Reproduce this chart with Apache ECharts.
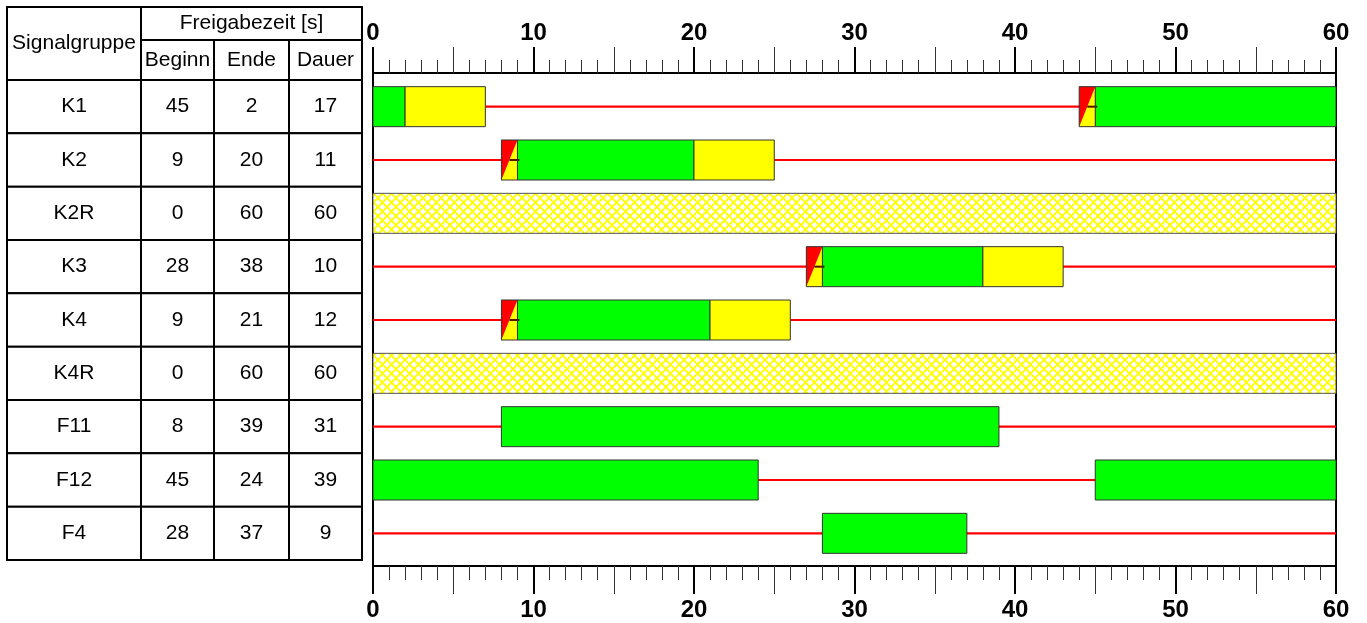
<!DOCTYPE html>
<html><head><meta charset="utf-8">
<script src="https://cdn.jsdelivr.net/npm/echarts@6/dist/echarts.min.js"></script>
<style>html,body{margin:0;padding:0;background:#fff}#c{width:1367px;height:623px}</style>
</head><body><div id="c"></div>
<script>
// ---- data ----
const groups = ['K1','K2','K2R','K3','K4','K4R','F11','F12','F4'];
const beginn = [45,9,0,28,9,0,8,45,28];
const ende   = [2,20,60,38,21,60,39,24,37];
const dauer  = [17,11,60,10,12,60,31,39,9];
const headerTop = 'Freigabezeit [s]';
const headerCols = ['Signalgruppe','Beginn','Ende','Dauer'];
// [row, start, end] in seconds
const greenPhases = [[0,0,2],[0,45,60],[1,9,20],[3,28,38],[4,9,21],[6,8,39],[7,0,24],[7,45,60],[8,28,37]];
const yellowPhases = [[0,2,7],[1,20,25],[3,38,43],[4,21,26]];
const redYellowPhases = [[0,44,45],[1,8,9],[3,27,28],[4,8,9]];
const flashPhases = [[2,0,60],[5,0,60]];
const redRows = [0,1,3,4,6,7,8];
const cycleMin = 0, cycleMax = 60;

// ---- layout / style ----
const FONT = '"Liberation Sans", Arial, Helvetica, sans-serif';
const colEdges = [0,134,207,282,355];
const BAR_H = 0.375;

function makeHatch(){
  const c = document.createElement('canvas'); c.width = 9; c.height = 9;
  const g = c.getContext('2d');
  g.fillStyle = '#ffffff'; g.fillRect(0,0,9,9);
  g.strokeStyle = '#ffff00'; g.lineWidth = 1.9;
  g.beginPath();
  g.moveTo(-1,-1); g.lineTo(10,10);
  g.moveTo(10,-1); g.lineTo(-1,10);
  g.stroke();
  return c;
}
const hatch = makeHatch();

function rectOf(api, row, s, e){
  const p0 = api.coord([s, row - BAR_H]);
  const p1 = api.coord([e, row + BAR_H]);
  return {x:p0[0], y:p0[1], width:p1[0]-p0[0], height:p1[1]-p0[1]};
}
function simpleBar(fill, stroke){
  return function(params, api){
    const r = rectOf(api, api.value(0), api.value(1), api.value(2));
    return {type:'rect', shape:r, style:{fill:fill, stroke:stroke, lineWidth:1}};
  };
}

const chart = echarts.init(document.getElementById('c'));
const axisCommon = {type:'value', min:cycleMin, max:cycleMax, splitLine:{show:false}};
const option = {
  animation:false,
  backgroundColor:'#fff',
  grid:[
    {left:373, right:31, top:73, bottom:57},
    {left:7, width:355, top:7, bottom:63}
  ],
  xAxis:[
    Object.assign({}, axisCommon, {gridIndex:0, position:'top', interval:5,
      axisLine:{show:true, onZero:false, lineStyle:{color:'#000', width:2}},
      axisTick:{show:true, length:26, lineStyle:{color:'#333', width:1}},
      minorTick:{show:true, splitNumber:5, length:13, lineStyle:{color:'#333', width:1}},
      axisLabel:{formatter:v => (v % 10 === 0 ? String(v) : ''), fontSize:24, fontWeight:'bold', color:'#000', fontFamily:FONT, margin:28}}),
    Object.assign({}, axisCommon, {gridIndex:0, position:'top', interval:10,
      axisLine:{show:true, onZero:false, lineStyle:{color:'#000', width:2}},
      axisTick:{show:true, length:26, lineStyle:{color:'#000', width:2}},
      axisLabel:{show:false}}),
    Object.assign({}, axisCommon, {gridIndex:0, position:'bottom', interval:5,
      axisLine:{show:true, onZero:false, lineStyle:{color:'#000', width:2}},
      axisTick:{show:true, length:28, lineStyle:{color:'#333', width:1}},
      minorTick:{show:true, splitNumber:5, length:14, lineStyle:{color:'#333', width:1}},
      axisLabel:{formatter:v => (v % 10 === 0 ? String(v) : ''), fontSize:24, fontWeight:'bold', color:'#000', fontFamily:FONT, margin:32}}),
    Object.assign({}, axisCommon, {gridIndex:0, position:'bottom', interval:10,
      axisLine:{show:true, onZero:false, lineStyle:{color:'#000', width:2}},
      axisTick:{show:true, length:28, lineStyle:{color:'#000', width:2}},
      axisLabel:{show:false}}),
    {gridIndex:1, type:'value', min:0, max:355, show:false}
  ],
  yAxis:[
    {gridIndex:0, type:'value', inverse:true, min:-0.63125, max:8.6125, position:'left',
      axisLine:{show:true, onZero:false, lineStyle:{color:'#000', width:2}}, axisTick:{show:false}, axisLabel:{show:false}, splitLine:{show:false}},
    {gridIndex:0, type:'value', inverse:true, min:-0.63125, max:8.6125, position:'right',
      axisLine:{show:true, onZero:false, lineStyle:{color:'#000', width:2}}, axisTick:{show:false}, axisLabel:{show:false}, splitLine:{show:false}},
    {gridIndex:1, type:'value', inverse:true, min:-1.86875, max:8.5, show:false}
  ],
  series:[
    // red lines (Sperrzeit)
    {type:'custom', xAxisIndex:0, yAxisIndex:0, z:1, clip:false,
      data: redRows.map(r => [r, cycleMin, cycleMax]),
      encode:{x:[1,2], y:0},
      renderItem:(params, api) => {
        const a = api.coord([api.value(1), api.value(0)]);
        const b = api.coord([api.value(2), api.value(0)]);
        return {type:'line', shape:{x1:a[0], y1:a[1], x2:b[0], y2:b[1]}, style:{stroke:'#ff0000', lineWidth:2.2}};
      }},
    {type:'custom', xAxisIndex:0, yAxisIndex:0, z:2, data:greenPhases, encode:{x:[1,2], y:0},
      renderItem: simpleBar('#00ff00', '#333')},
    {type:'custom', xAxisIndex:0, yAxisIndex:0, z:2, data:yellowPhases, encode:{x:[1,2], y:0},
      renderItem: simpleBar('#ffff00', '#333')},
    {type:'custom', xAxisIndex:0, yAxisIndex:0, z:2, data:flashPhases, encode:{x:[1,2], y:0},
      renderItem: simpleBar({image:hatch, repeat:'repeat'}, '#555')},
    {type:'custom', xAxisIndex:0, yAxisIndex:0, z:3, data:redYellowPhases, encode:{x:[1,2], y:0},
      renderItem:(params, api) => {
        const r = rectOf(api, api.value(0), api.value(1), api.value(2));
        const x0 = r.x, x1 = r.x + r.width, y0 = r.y, y1 = r.y + r.height, ym = (y0 + y1) / 2;
        return {type:'group', children:[
          {type:'rect', shape:r, style:{fill:'#ff0000'}},
          {type:'polygon', shape:{points:[[x0,y1],[x1,y1],[x1,y0]]}, style:{fill:'#ffff00'}},
          {type:'line', shape:{x1:(x0+x1)/2, y1:ym, x2:x1+2, y2:ym}, style:{stroke:'#5a1000', lineWidth:2}},
          {type:'rect', shape:r, style:{fill:'none', stroke:'#333', lineWidth:1}}
        ]};
      }},
    // table header
    {type:'custom', xAxisIndex:4, yAxisIndex:2, clip:false, data:[[0,0]], encode:{x:0, y:1},
      renderItem:(params, api) => {
        const yTop = api.coord([0, -1.86875])[1];
        const yMid = api.coord([0, -1.25])[1];
        const yBot = api.coord([0, -0.5])[1];
        const X = colEdges.map(c => api.coord([c, 0])[0]);
        const cell = (xa, xb, ya, yb, t) => [
          {type:'rect', shape:{x:xa, y:ya, width:xb-xa, height:yb-ya}, style:{fill:'#fff', stroke:'#000', lineWidth:2}},
          {type:'text', style:{text:t, x:(xa+xb)/2, y:(ya+yb)/2, align:'center', verticalAlign:'middle', fontSize:21, fontFamily:FONT, fill:'#000'}}
        ];
        let ch = [];
        ch = ch.concat(cell(X[0], X[1], yTop, yBot, headerCols[0]));
        ch = ch.concat(cell(X[1], X[4], yTop, yMid, headerTop));
        for (let c = 1; c < 4; c++) ch = ch.concat(cell(X[c], X[c+1], yMid, yBot, headerCols[c]));
        return {type:'group', children:ch};
      }},
    // table body
    {type:'custom', xAxisIndex:4, yAxisIndex:2, clip:false,
      data: groups.map((g, i) => [0, i]), encode:{x:0, y:1},
      renderItem:(params, api) => {
        const i = params.dataIndex;
        const vals = [groups[i], beginn[i], ende[i], dauer[i]];
        const ch = [];
        for (let c = 0; c < 4; c++) {
          const p0 = api.coord([colEdges[c], i - 0.5]);
          const p1 = api.coord([colEdges[c+1], i + 0.5]);
          ch.push({type:'rect', shape:{x:p0[0], y:p0[1], width:p1[0]-p0[0], height:p1[1]-p0[1]}, style:{fill:'#fff', stroke:'#000', lineWidth:2}});
          ch.push({type:'text', style:{text:String(vals[c]), x:(p0[0]+p1[0])/2, y:(p0[1]+p1[1])/2, align:'center', verticalAlign:'middle', fontSize:21, fontFamily:FONT, fill:'#000'}});
        }
        return {type:'group', children:ch};
      }}
  ]
};
chart.setOption(option);
</script>
</body></html>
